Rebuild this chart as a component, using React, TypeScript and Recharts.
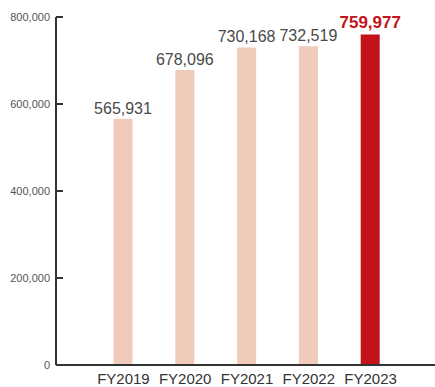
import { BarChart, Bar, XAxis, YAxis, Cell, LabelList } from 'recharts';

// 年度ごとの値
const years = ['FY2019', 'FY2020', 'FY2021', 'FY2022', 'FY2023'];
const values = [565931, 678096, 730168, 732519, 759977];
const yTicks = [0, 200000, 400000, 600000, 800000];
const highlightYear = 'FY2023';

const PALE = '#f1cbba';
const RED = '#c4121b';
const FONT = '"Liberation Sans", Arial, Helvetica, sans-serif';

const chartData = years.map((year, i) => ({ year, value: values[i] }));

const YTick = ({ x, y, payload }: any) => (
  <g>
    <line x1={x} y1={y} x2={x + 7} y2={y} stroke="#333" strokeWidth={2} />
    <text
      x={x - 6}
      y={y + 4}
      textAnchor="end"
      fontSize={11}
      fill="#555"
      fontFamily={FONT}
    >
      {payload.value.toLocaleString('en-US')}
    </text>
  </g>
);

const XTick = ({ x, y, payload }: any) => (
  <text
    x={x}
    y={y + 18.5}
    textAnchor="middle"
    fontSize={15}
    fill="#333"
    fontFamily={FONT}
  >
    {payload.value}
  </text>
);

const ValueLabel = (props: any) => {
  const { x, y, width, value, index } = props;
  const hot = years[index] === highlightYear;
  return (
    <text
      x={x + width / 2}
      y={y - (hot ? 6 : 5)}
      textAnchor="middle"
      fontSize={hot ? 17 : 16}
      fontWeight={hot ? 'bold' : 'normal'}
      fill={hot ? RED : '#4a4a4a'}
      fontFamily={FONT}
    >
      {Number(value).toLocaleString('en-US')}
    </text>
  );
};

export default function App() {
  return (
    <div style={{ position: 'absolute', left: 0, top: 0, background: '#fff' }}>
      <BarChart
        width={435}
        height={387}
        data={chartData}
        margin={{ top: 17, right: 0, bottom: 0, left: 0 }}
      >
        <XAxis
          dataKey="year"
          height={22}
          padding={{ left: 36.5, right: 33.5 }}
          axisLine={{ stroke: '#333', strokeWidth: 2 }}
          tickLine={false}
          tickSize={0}
          tickMargin={0}
          interval={0}
          tick={<XTick />}
        />
        <YAxis
          width={56}
          domain={[0, 800000]}
          ticks={yTicks}
          axisLine={{ stroke: '#333', strokeWidth: 2 }}
          tickLine={false}
          tickSize={0}
          tickMargin={0}
          tick={<YTick />}
        />
        <Bar dataKey="value" barSize={19} isAnimationActive={false}>
          {chartData.map((d) => (
            <Cell key={d.year} fill={d.year === highlightYear ? RED : PALE} />
          ))}
          <LabelList dataKey="value" content={<ValueLabel />} />
        </Bar>
      </BarChart>
    </div>
  );
}
